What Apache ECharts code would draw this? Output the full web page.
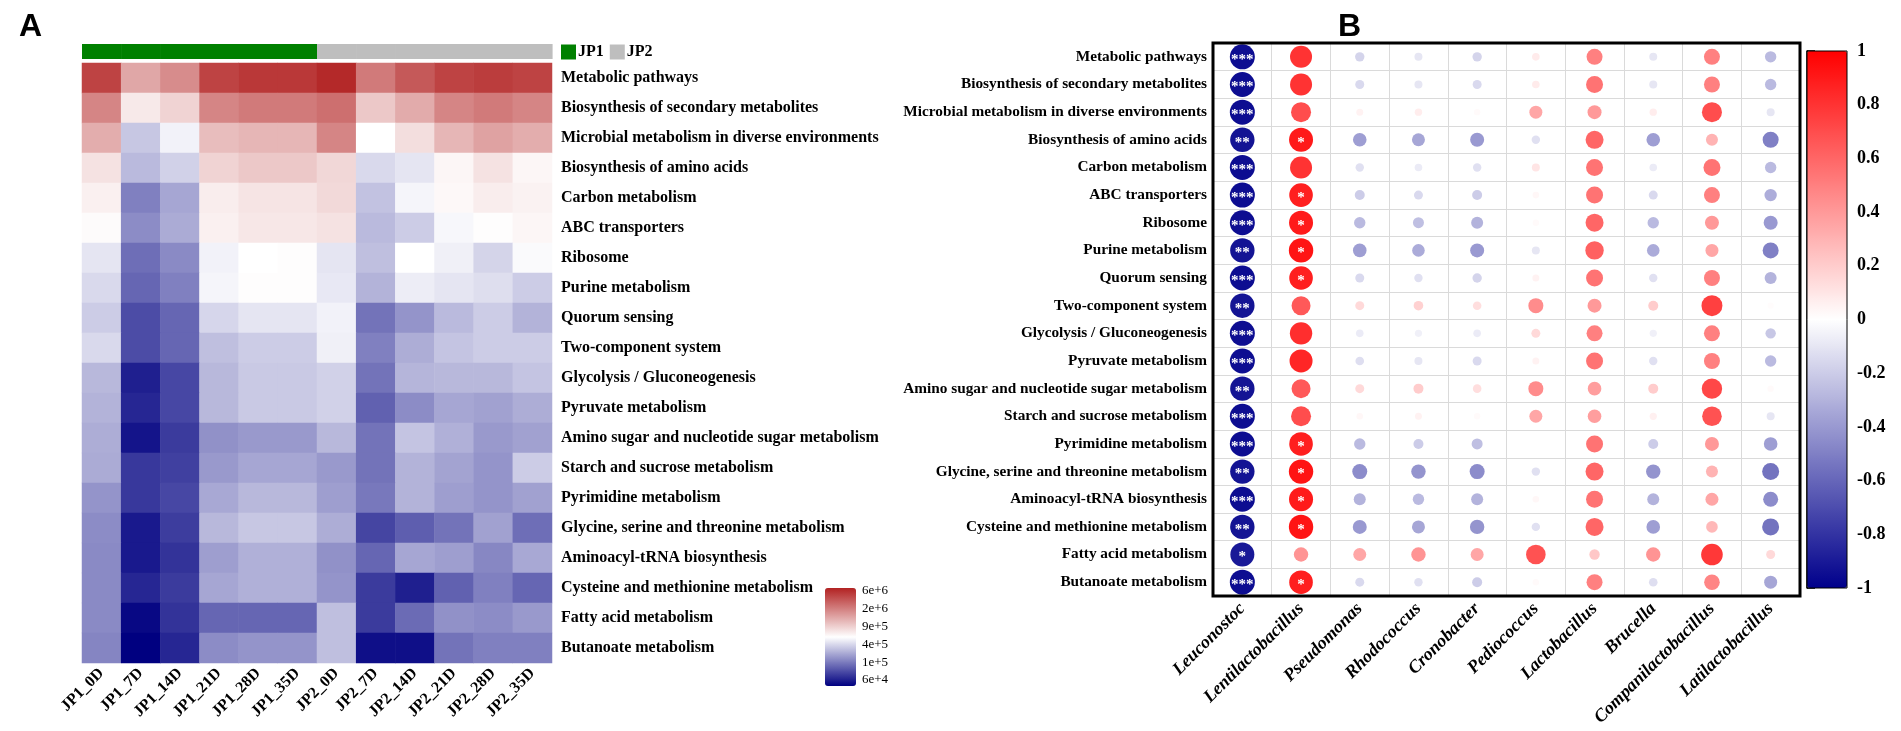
<!DOCTYPE html>
<html><head><meta charset="utf-8">
<script src="https://cdn.jsdelivr.net/npm/echarts/dist/echarts.min.js"></script>
<style>html,body{margin:0;padding:0;background:#fff}#c{width:1901px;height:731px}</style>
</head><body><div id="c"></div>
<script>
// ---------- Panel A: heatmap ----------
const sampleLabels = ['JP1_0D','JP1_7D','JP1_14D','JP1_21D','JP1_28D','JP1_35D','JP2_0D','JP2_7D','JP2_14D','JP2_21D','JP2_28D','JP2_35D'];
const sampleGroups = ['JP1','JP1','JP1','JP1','JP1','JP1','JP2','JP2','JP2','JP2','JP2','JP2'];
const pathways = ['Metabolic pathways','Biosynthesis of secondary metabolites','Microbial metabolism in diverse environments','Biosynthesis of amino acids','Carbon metabolism','ABC transporters','Ribosome','Purine metabolism','Quorum sensing','Two-component system','Glycolysis / Gluconeogenesis','Pyruvate metabolism','Amino sugar and nucleotide sugar metabolism','Starch and sucrose metabolism','Pyrimidine metabolism','Glycine, serine and threonine metabolism','Aminoacyl-tRNA biosynthesis','Cysteine and methionine metabolism','Fatty acid metabolism','Butanoate metabolism'];
// log10 abundance, one row per pathway, columns follow sampleLabels
const heatLog10 = [
  [6.63,6.18,6.30,6.63,6.68,6.68,6.75,6.38,6.53,6.63,6.66,6.63],
  [6.33,5.88,5.98,6.33,6.38,6.38,6.43,6.03,6.16,6.33,6.38,6.33],
  [6.15,5.56,5.73,6.08,6.11,6.11,6.33,5.78,5.93,6.11,6.20,6.15],
  [5.91,5.51,5.60,5.98,6.03,6.03,5.96,5.63,5.68,5.82,5.91,5.82],
  [5.85,5.28,5.43,5.86,5.90,5.90,5.95,5.54,5.74,5.81,5.86,5.84],
  [5.80,5.33,5.45,5.85,5.89,5.89,5.91,5.51,5.58,5.75,5.79,5.82],
  [5.68,5.21,5.32,5.73,5.78,5.79,5.68,5.53,5.78,5.72,5.61,5.76],
  [5.63,5.18,5.28,5.74,5.79,5.79,5.69,5.48,5.71,5.68,5.65,5.58],
  [5.58,5.08,5.18,5.62,5.68,5.68,5.73,5.23,5.36,5.51,5.58,5.48],
  [5.63,5.08,5.18,5.53,5.58,5.58,5.72,5.28,5.46,5.55,5.58,5.58],
  [5.50,4.90,5.06,5.50,5.57,5.57,5.60,5.23,5.49,5.50,5.50,5.55],
  [5.48,4.93,5.06,5.50,5.57,5.57,5.60,5.16,5.33,5.43,5.41,5.46],
  [5.46,4.86,5.01,5.35,5.38,5.38,5.50,5.23,5.55,5.47,5.38,5.41],
  [5.45,5.00,5.03,5.38,5.43,5.43,5.38,5.23,5.48,5.42,5.36,5.58],
  [5.36,5.00,5.06,5.44,5.50,5.50,5.40,5.25,5.48,5.40,5.36,5.41],
  [5.33,4.88,5.02,5.50,5.56,5.56,5.46,5.05,5.15,5.23,5.41,5.21],
  [5.32,4.88,4.98,5.40,5.47,5.47,5.35,5.18,5.43,5.40,5.31,5.44],
  [5.32,4.93,5.01,5.43,5.47,5.47,5.36,5.01,4.90,5.16,5.28,5.18],
  [5.32,4.81,4.98,5.18,5.18,5.18,5.53,5.01,5.20,5.35,5.33,5.38],
  [5.30,4.78,4.93,5.33,5.36,5.36,5.53,4.84,4.84,5.23,5.28,5.28]
];
const heatMin = 4.78, heatMax = 6.78;
const heatLegendTicks = ['6e+4','1e+5','4e+5','9e+5','2e+6','6e+6'];

// ---------- Panel B: correlation bubbles ----------
const genera = ['Leuconostoc','Lentilactobacillus','Pseudomonas','Rhodococcus','Cronobacter','Pediococcus','Lactobacillus','Brucella','Companilactobacillus','Latilactobacillus'];
const corrR = [
  [-0.95,0.80,-0.17,-0.10,-0.17,0.08,0.50,-0.10,0.50,-0.27],
  [-0.95,0.80,-0.15,-0.10,-0.15,0.08,0.55,-0.10,0.50,-0.27],
  [-0.95,0.70,0.05,0.07,0.02,0.35,0.40,0.07,0.70,-0.10],
  [-0.92,0.90,-0.38,-0.35,-0.40,-0.12,0.60,-0.38,0.30,-0.50],
  [-0.95,0.80,-0.12,-0.08,-0.12,0.10,0.55,-0.08,0.55,-0.27],
  [-0.95,0.88,-0.20,-0.15,-0.20,0.03,0.55,-0.15,0.50,-0.32],
  [-0.95,0.90,-0.27,-0.25,-0.30,0.02,0.60,-0.27,0.40,-0.40],
  [-0.92,0.92,-0.38,-0.33,-0.40,-0.10,0.62,-0.33,0.35,-0.50],
  [-0.95,0.88,-0.15,-0.12,-0.17,0.05,0.55,-0.12,0.50,-0.30],
  [-0.92,0.65,0.15,0.18,0.13,0.45,0.40,0.20,0.75,0.01],
  [-0.95,0.82,-0.08,-0.06,-0.08,0.15,0.50,-0.06,0.50,-0.22],
  [-0.95,0.85,-0.13,-0.10,-0.15,0.05,0.55,-0.12,0.50,-0.27],
  [-0.92,0.65,0.15,0.20,0.13,0.45,0.38,0.20,0.72,0.02],
  [-0.95,0.70,0.03,0.05,0.02,0.35,0.38,0.06,0.68,-0.10],
  [-0.95,0.88,-0.27,-0.20,-0.25,0.00,0.55,-0.20,0.40,-0.38],
  [-0.92,0.92,-0.45,-0.42,-0.45,-0.12,0.60,-0.42,0.30,-0.55],
  [-0.95,0.90,-0.30,-0.27,-0.30,0.03,0.55,-0.30,0.35,-0.45],
  [-0.92,0.92,-0.40,-0.35,-0.42,-0.12,0.60,-0.38,0.28,-0.55],
  [-0.90,0.42,0.35,0.42,0.35,0.68,0.22,0.42,0.78,0.15],
  [-0.95,0.88,-0.15,-0.12,-0.20,0.02,0.50,-0.13,0.48,-0.35]
];
// significance marks for Leuconostoc and Lentilactobacillus columns (others none)
const sigLeuconostoc = ['***','***','***','**','***','***','***','**','***','**','***','***','**','***','***','**','***','**','*','***'];
const sigLentilactobacillus = ['','','','*','','*','*','*','*','','','','','','*','*','*','*','','*'];

// ---------- build ----------
const serif = '"Liberation Serif","Times New Roman",serif';
const heatData = [];
heatLog10.forEach((row, r) => row.forEach((v, c) => heatData.push([c, r, v])));
const grp = {JP1: [], JP2: []};
sampleGroups.forEach((g, c) => grp[g].push([c, 0]));
const corrData = [];
corrR.forEach((row, p) => row.forEach((v, g) => {
  const sig = g === 0 ? sigLeuconostoc[p] : (g === 1 ? sigLentilactobacillus[p] : '');
  corrData.push({value: [g, p, v], sig: sig});
}));

const rectItem = (params, api) => {
  const c = api.coord([api.value(0), api.value(1)]);
  const s = api.size([1, 1]);
  return {type: 'rect', shape: {x: c[0] - s[0] / 2, y: c[1] - s[1] / 2, width: s[0] + 0.6, height: s[1]}, style: {fill: api.visual('color')}};
};

const boldSerif = (size, extra) => Object.assign({fontFamily: serif, fontWeight: 'bold', fontSize: size, color: '#000'}, extra || {});

const option = {
  animation: false,
  backgroundColor: '#fff',
  title: [
    {text: 'A', left: 14, top: 6, textStyle: {fontFamily: '"Liberation Sans",Arial,sans-serif', fontWeight: 'bold', fontSize: 32, color: '#000'}},
    {text: 'B', left: 1333, top: 6, textStyle: {fontFamily: '"Liberation Sans",Arial,sans-serif', fontWeight: 'bold', fontSize: 32, color: '#000'}}
  ],
  legend: {
    data: ['JP1', 'JP2'], left: 561, top: 44, padding: 0, itemWidth: 15, itemHeight: 15, itemGap: 6,
    icon: 'rect', selectedMode: false, textStyle: boldSerif(16, {padding: [0, 0, 0, -3]})
  },
  grid: [
    {left: 82, top: 63, width: 470, height: 600, outerBoundsMode: 'none'},
    {left: 82, top: 44, width: 470, height: 15, outerBoundsMode: 'none'},
    {left: 1213, top: 43, width: 587, height: 553, outerBoundsMode: 'none'},
    {left: 1807, top: 51, width: 40, height: 537, outerBoundsMode: 'none'},
    {left: 825, top: 591, width: 31, height: 89, outerBoundsMode: 'none'}
  ],
  xAxis: [
    {gridIndex: 0, type: 'category', data: sampleLabels, axisLine: {show: false}, axisTick: {show: false}, splitLine: {show: false},
      axisLabel: Object.assign({rotate: 45, interval: 0, margin: 8}, boldSerif(16))},
    {gridIndex: 1, type: 'category', data: sampleLabels, show: false},
    {gridIndex: 2, type: 'category', data: genera, axisLine: {show: false}, axisTick: {show: false},
      splitLine: {show: true, interval: 0, lineStyle: {color: '#dadada', width: 1}},
      axisLabel: Object.assign({rotate: 45, interval: 0, margin: 10}, boldSerif(18, {fontStyle: 'italic'}))},
    {gridIndex: 3, type: 'value', show: false},
    {gridIndex: 4, type: 'value', show: false}
  ],
  yAxis: [
    {gridIndex: 0, type: 'category', data: pathways, inverse: true, position: 'right', axisLine: {show: false}, axisTick: {show: false}, splitLine: {show: false},
      axisLabel: Object.assign({interval: 0, margin: 9}, boldSerif(16))},
    {gridIndex: 1, type: 'category', data: ['group'], show: false},
    {gridIndex: 2, type: 'category', data: pathways, inverse: true, axisLine: {show: false}, axisTick: {show: false},
      splitLine: {show: true, interval: 0, lineStyle: {color: '#dadada', width: 1}},
      axisLabel: Object.assign({interval: 0, margin: 6}, boldSerif(15.3))},
    {gridIndex: 3, type: 'value', min: -1, max: 1, interval: 0.2, position: 'right',
      axisLine: {show: true, lineStyle: {color: '#000', width: 1.5}},
      axisTick: {show: true, length: 8, lineStyle: {color: '#000', width: 1.5}}, splitLine: {show: false},
      axisLabel: Object.assign({margin: 10, formatter: v => String(Number(v.toFixed(1)))}, boldSerif(18))},
    {gridIndex: 4, type: 'category', data: heatLegendTicks, boundaryGap: false, position: 'right',
      axisLine: {show: false}, axisTick: {show: false}, splitLine: {show: false},
      axisLabel: {interval: 0, margin: 6, fontFamily: serif, fontSize: 13, color: '#000'}}
  ],
  visualMap: [
    {type: 'continuous', seriesIndex: 0, min: heatMin, max: heatMax, calculable: false, show: true,
      left: 825, top: 588, itemWidth: 31, itemHeight: 98, padding: 0, text: null, hoverLink: false,
      inRange: {color: ['#000080', '#ffffff', '#B22222']}},
    {type: 'continuous', seriesIndex: 3, dimension: 2, min: -1, max: 1, calculable: false, show: true,
      left: 1807, top: 51, itemWidth: 40, itemHeight: 537, padding: 0, text: null, hoverLink: false,
      inRange: {color: ['#00008B', '#ffffff', '#FF0000']}}
  ],
  series: [
    {type: 'heatmap', xAxisIndex: 0, yAxisIndex: 0, data: heatData, emphasis: {disabled: true}, progressive: 0},
    {type: 'custom', name: 'JP1', xAxisIndex: 1, yAxisIndex: 1, data: grp.JP1, renderItem: rectItem, itemStyle: {color: '#008000'}},
    {type: 'custom', name: 'JP2', xAxisIndex: 1, yAxisIndex: 1, data: grp.JP2, renderItem: rectItem, itemStyle: {color: '#BEBEBE'}},
    {type: 'scatter', xAxisIndex: 2, yAxisIndex: 2, data: corrData,
      symbolSize: val => 6 + 20 * Math.abs(val[2]),
      itemStyle: {opacity: 1},
      emphasis: {disabled: true},
      label: {show: true, position: 'inside', formatter: p => p.data.sig, color: '#fff',
        fontFamily: serif, fontWeight: 'bold', fontSize: 15, offset: [0, 3]}}
  ],
  graphic: [
    {type: 'rect', z: 100, shape: {x: 1213, y: 43, width: 587, height: 553}, style: {fill: 'none', stroke: '#000', lineWidth: 3}},
    {type: 'rect', z: 100, shape: {x: 1807, y: 51, width: 40, height: 537}, style: {fill: 'none', stroke: '#000', lineWidth: 1}}
  ]
};
const chart = echarts.init(document.getElementById('c'));
chart.setOption(option);
</script></body></html>
